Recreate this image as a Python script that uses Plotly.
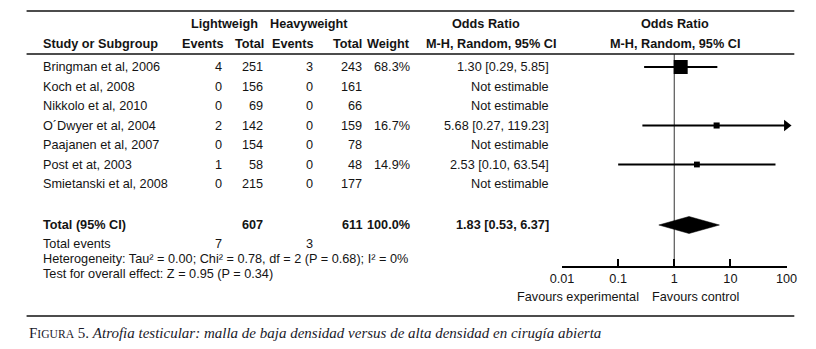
import plotly.graph_objects as go

# ---------------- data ----------------
studies = ["Bringman et al, 2006", "Koch et al, 2008", "Nikkolo et al, 2010",
           "O\u00b4Dwyer et al, 2004", "Paajanen et al, 2007", "Post et at, 2003",
           "Smietanski et al, 2008"]
lw_events = [4, 0, 0, 2, 0, 1, 0]
lw_total = [251, 156, 69, 142, 154, 58, 215]
hw_events = [3, 0, 0, 0, 0, 0, 0]
hw_total = [243, 161, 66, 159, 78, 48, 177]
weight = [68.3, None, None, 16.7, None, 14.9, None]
odds_ratio = [1.30, None, None, 5.68, None, 2.53, None]
ci_lower = [0.29, None, None, 0.27, None, 0.10, None]
ci_upper = [5.85, None, None, 119.23, None, 63.54, None]

total_lw = 607
total_hw = 611
total_weight = 100.0
total_or = 1.83
total_lo = 0.53
total_hi = 6.37
events_lw = 7
events_hw = 3
heterogeneity = "Heterogeneity: Tau\u00b2 = 0.00; Chi\u00b2 = 0.78, df = 2 (P = 0.68); I\u00b2 = 0%"
overall = "Test for overall effect: Z = 0.95 (P = 0.34)"

tick_vals = [0.01, 0.1, 1, 10, 100]
tick_text = ["0.01", "0.1", "1", "10", "100"]
axis_min, axis_max = 0.01, 100

# ---------------- layout constants (pixels) ----------------
W, H = 816, 349
FONT = "Liberation Sans, Arial, sans-serif"
FS = 12.7
TXT = "#141414"
row0, step = 67, 19.5
row_y = [row0 + i * step for i in range(len(studies))]
y_total = 225
y_events = 244
y_het = 259
y_test = 274
y_head1, y_head2 = 24, 44
y_top, y_hline, y_bottom = 11, 54, 316
y_axis = 266
y_favours = 297
plot_x0, plot_x1 = 566, 797

fig = go.Figure()
ann = []


def txt(x, y, s, anchor="left", bold=False, size=FS, font=FONT, color=TXT):
    if bold:
        s = "<b>" + s + "</b>"
    ann.append(dict(x=x, y=y, xref="x", yref="y", text=s, showarrow=False,
                    xanchor=anchor, yanchor="middle",
                    font=dict(family=font, size=size, color=color)))


# headers
txt(182, y_head1, "Lightweigh", bold=True)
txt(263, y_head1, "Heavyweight", bold=True)
txt(488, y_head1, "Odds Ratio", "center", bold=True)
txt(682, y_head1, "Odds Ratio", "center", bold=True)
txt(30, y_head2, "Study or Subgroup", bold=True)
txt(220, y_head2, "Events", "right", bold=True)
txt(261, y_head2, "Total", "right", bold=True)
txt(313, y_head2, "Events", "right", bold=True)
txt(362, y_head2, "Total", "right", bold=True)
txt(412, y_head2, "Weight", "right", bold=True)
txt(562, y_head2, "M-H, Random, 95% CI", "right", bold=True)
txt(682, y_head2, "M-H, Random, 95% CI", "center", bold=True)

# study rows
for i, name in enumerate(studies):
    y = row_y[i]
    txt(30, y, name)
    txt(218, y, str(lw_events[i]), "right")
    txt(260, y, str(lw_total[i]), "right")
    txt(312, y, str(hw_events[i]), "right")
    txt(362, y, str(hw_total[i]), "right")
    if weight[i] is not None:
        txt(412, y, f"{weight[i]:.1f}%", "right")
        txt(555, y, f"{odds_ratio[i]:.2f} [{ci_lower[i]:.2f}, {ci_upper[i]:.2f}]", "right")
    else:
        txt(555, y, "Not estimable", "right")

# totals
txt(30, y_total, "Total (95% CI)", bold=True)
txt(260, y_total, str(total_lw), "right", bold=True)
txt(362, y_total, str(total_hw), "right", bold=True)
txt(412, y_total, f"{total_weight:.1f}%", "right", bold=True)
txt(555, y_total, f"{total_or:.2f} [{total_lo:.2f}, {total_hi:.2f}]", "right", bold=True)
txt(30, y_events, "Total events")
txt(218, y_events, str(events_lw), "right")
txt(312, y_events, str(events_hw), "right")
txt(30, y_het, heterogeneity)
txt(30, y_test, overall)

# favours labels
txt(647, y_favours, "Favours experimental", "right")
txt(657, y_favours, "Favours control", "left")

# caption
cap_font = "Liberation Serif, Times New Roman, serif"
ann.append(dict(x=15, y=333, xref="x", yref="y", showarrow=False, xanchor="left", yanchor="middle",
                text="F<span style='font-size:11.6px'>IGURA</span> 5. <i>Atrofia testicular: malla de baja densidad versus de alta densidad en cirug\u00eda abierta</i>",
                font=dict(family=cap_font, size=15, color="#1a1a2a")))

# ---------------- forest plot ----------------
# vertical null line
fig.add_trace(go.Scatter(x=[1, 1], y=[y_hline, y_axis], xaxis="x2", yaxis="y2", mode="lines",
                         line=dict(color="#555555", width=1.2), hoverinfo="skip", showlegend=False))

sq_x, sq_y, sq_s = [], [], []
arr_x, arr_y = [], []
max_w = max(w for w in weight if w is not None)
for i in range(len(studies)):
    if odds_ratio[i] is None:
        continue
    hi = min(ci_upper[i], axis_max)
    fig.add_trace(go.Scatter(x=[ci_lower[i], hi], y=[row_y[i], row_y[i]], xaxis="x2", yaxis="y2",
                             mode="lines", line=dict(color="#000000", width=1.8),
                             hoverinfo="skip", showlegend=False, cliponaxis=False))
    if ci_upper[i] > axis_max:
        arr_x.append(axis_max)
        arr_y.append(row_y[i])
    sq_x.append(odds_ratio[i])
    sq_y.append(row_y[i])
    sq_s.append(3.5 + 10.5 * weight[i] / max_w)

fig.add_trace(go.Scatter(x=sq_x, y=sq_y, xaxis="x2", yaxis="y2", mode="markers",
                         marker=dict(symbol="square", size=sq_s, color="#000000", opacity=1,
                                     line=dict(width=0)),
                         showlegend=False, cliponaxis=False))
fig.add_trace(go.Scatter(x=arr_x, y=arr_y, xaxis="x2", yaxis="y2", mode="markers",
                         marker=dict(symbol="triangle-right", size=10, color="#000000", opacity=1,
                                     line=dict(width=0)),
                         showlegend=False, cliponaxis=False))

# diamond
dh = 8.5
fig.add_trace(go.Scatter(x=[total_lo, total_or, total_hi, total_or, total_lo],
                         y=[y_total, y_total - dh, y_total, y_total + dh, y_total],
                         xaxis="x2", yaxis="y2", mode="lines", fill="toself",
                         fillcolor="#000000", line=dict(color="#000000", width=0.5),
                         showlegend=False, hoverinfo="skip"))

# horizontal rules
shapes = []
for yy, lw in [(y_top, 1.5), (y_hline, 1.5), (y_bottom, 1.5)]:
    shapes.append(dict(type="line", xref="x", yref="y", x0=15, x1=805, y0=yy, y1=yy,
                       line=dict(color="#111111", width=lw)))

fig.update_layout(
    width=W, height=H, autosize=False,
    margin=dict(l=0, r=0, t=0, b=0, pad=0),
    paper_bgcolor="white", plot_bgcolor="rgba(0,0,0,0)",
    xaxis=dict(range=[0, W], visible=False, fixedrange=True, domain=[0, 1]),
    yaxis=dict(range=[H, 0], visible=False, fixedrange=True, domain=[0, 1]),
    xaxis2=dict(type="log", range=[-2, 2], domain=[plot_x0 / W, plot_x1 / W], anchor="y2",
                showline=True, linecolor="#000000", linewidth=2, showgrid=False, zeroline=False,
                ticks="inside", ticklen=7, tickwidth=2, tickcolor="#000000",
                tickvals=tick_vals, ticktext=tick_text, ticklabelstandoff=0,
                tickfont=dict(family=FONT, size=FS, color=TXT), fixedrange=True),
    yaxis2=dict(range=[y_axis, y_hline], domain=[(H - y_axis) / H, (H - y_hline) / H],
                anchor="x2", visible=False, fixedrange=True),
    annotations=ann, shapes=shapes, showlegend=False,
)

fig.write_html("out.html", config={"staticPlot": True},
               post_script="document.body.style.margin='0';")
